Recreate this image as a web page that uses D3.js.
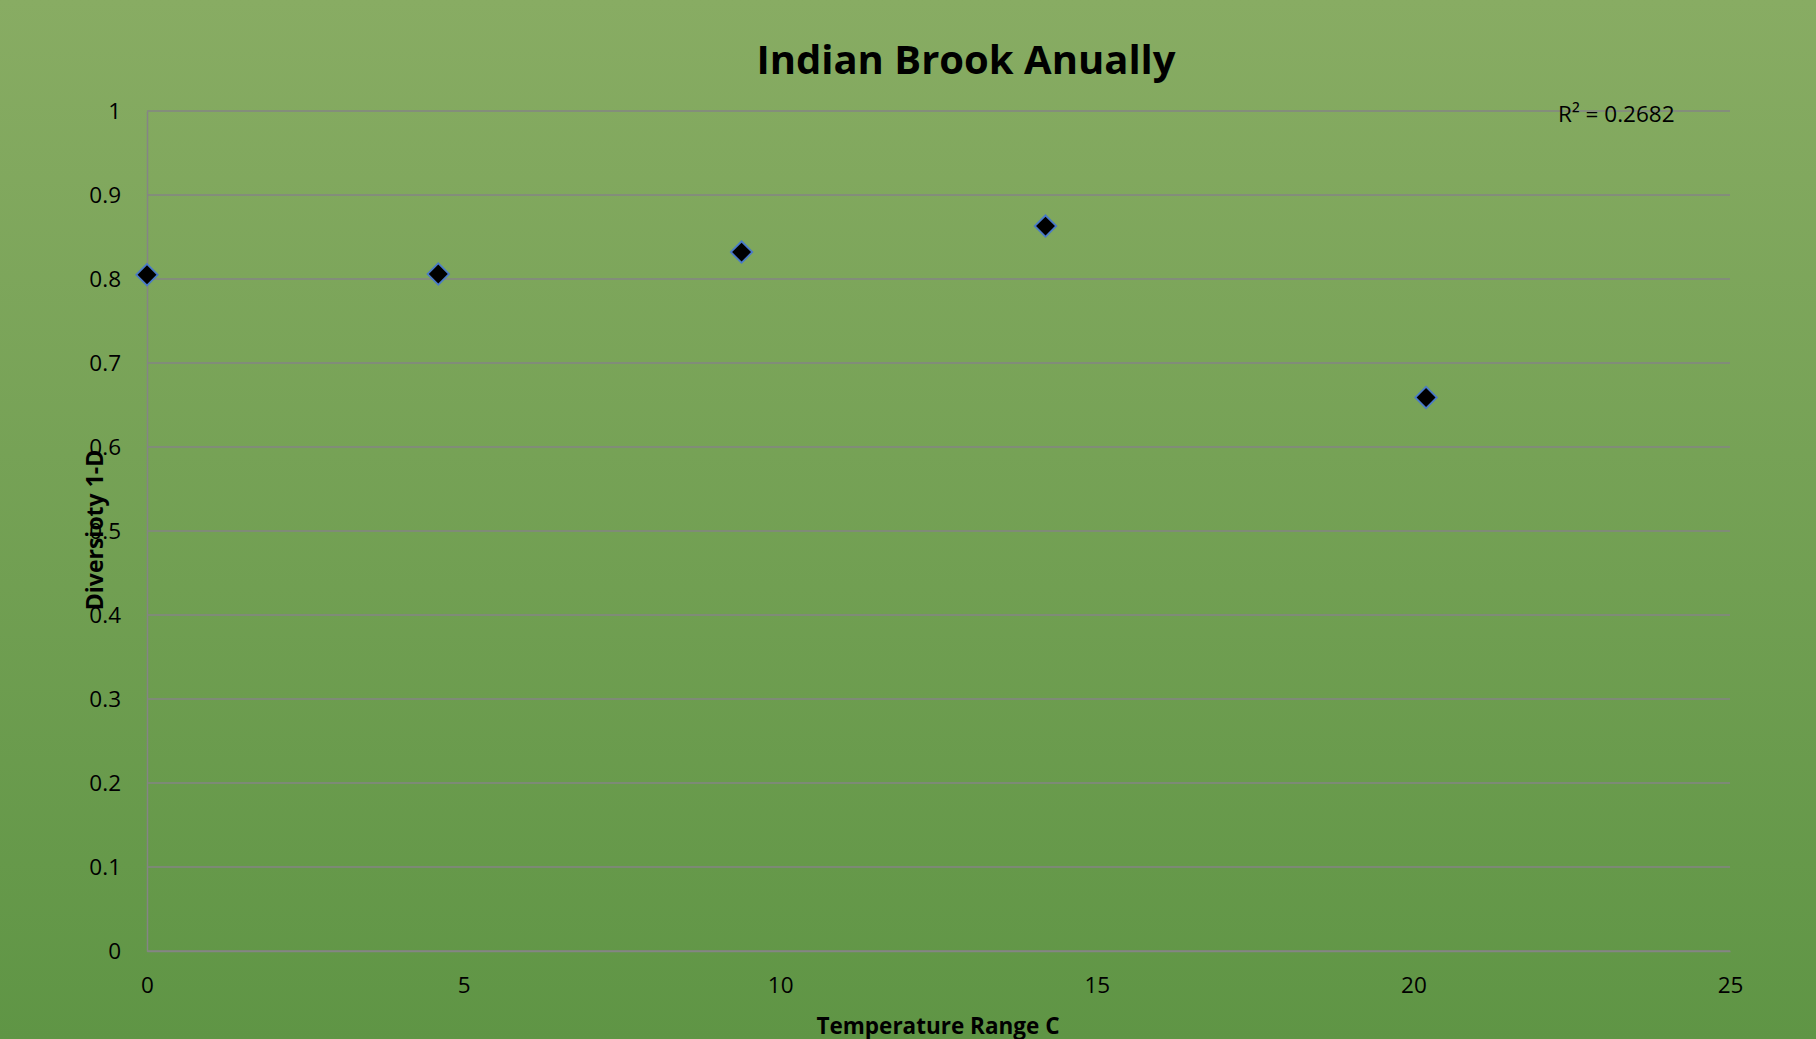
<!DOCTYPE html>
<html>
<head>
<meta charset="utf-8">
<script src="https://cdn.jsdelivr.net/npm/d3@7"></script>
<style>
  html, body { margin: 0; padding: 0; }
  body { width: 1816px; height: 1039px; overflow: hidden; }
  text { font-family: "Open Sans", "Noto Sans", sans-serif; fill: #000; }
</style>
</head>
<body>
<svg id="chart" width="1816" height="1039"></svg>
<script>
// data
let tempRange = [0, 4.6, 9.39, 14.19, 20.2]
let diversity = [0.805, 0.806, 0.832, 0.863, 0.659]
let xTicks = [0, 5, 10, 15, 20, 25]
let yTicks = [0, 0.1, 0.2, 0.3, 0.4, 0.5, 0.6, 0.7, 0.8, 0.9, 1]
let rSquared = "R² = 0.2682"

let svg = d3.select("#chart")

// background gradient
let defs = svg.append("defs")
let grad = defs.append("linearGradient")
    .attr("id", "bg")
    .attr("x1", 0).attr("y1", 0).attr("x2", 0).attr("y2", 1)
grad.append("stop").attr("offset", "0%").attr("stop-color", "#88ac63")
grad.append("stop").attr("offset", "100%").attr("stop-color", "#5f9545")

svg.append("rect")
    .attr("width", 1816).attr("height", 1039)
    .attr("fill", "url(#bg)")

let plotLeft = 147, plotRight = 1730, plotTop = 111, plotBottom = 951

let xScale = d3.scaleLinear().domain([0, 25]).range([plotLeft, plotRight])
let yScale = d3.scaleLinear().domain([0, 1]).range([plotBottom, plotTop])

// gridlines
svg.append("g")
    .selectAll("line")
    .data(yTicks)
    .join("line")
    .attr("x1", plotLeft).attr("x2", plotRight)
    .attr("y1", d => yScale(d)).attr("y2", d => yScale(d))
    .attr("stroke", "#858585")
    .attr("stroke-width", 1.5)

// y axis
let yAxis = d3.axisLeft(yScale)
    .tickValues(yTicks)
    .tickSize(0)
    .tickPadding(26)
    .tickFormat(d3.format("~g"))
let yAxisGroup = svg.append("g")
    .attr("transform", `translate(${plotLeft},0)`)
    .call(yAxis)
yAxisGroup.select(".domain").attr("stroke", "#858585").attr("stroke-width", 1.5)
yAxisGroup.selectAll("text")
    .style("font-size", "22.5px")
    .style("font-family", "'Open Sans', sans-serif")
    .attr("fill", "#000")

// x axis
let xAxis = d3.axisBottom(xScale)
    .tickValues(xTicks)
    .tickSize(0)
    .tickPadding(26)
let xAxisGroup = svg.append("g")
    .attr("transform", `translate(0,${plotBottom})`)
    .call(xAxis)
xAxisGroup.select(".domain").attr("stroke", "#858585").attr("stroke-width", 1.5)
xAxisGroup.selectAll("text")
    .style("font-size", "22.5px")
    .style("font-family", "'Open Sans', sans-serif")
    .attr("fill", "#000")

// points
let points = tempRange.map((t, i) => ({ x: t, y: diversity[i] }))
svg.append("g")
    .selectAll("path")
    .data(points)
    .join("path")
    .attr("d", d3.symbol().type(d3.symbolSquare).size(230))
    .attr("transform", d => `translate(${xScale(d.x)},${yScale(d.y)}) rotate(45)`)
    .attr("fill", "#000")
    .attr("stroke", "#4a7bc8")
    .attr("stroke-width", 1.8)

// title
svg.append("text")
    .attr("x", 966).attr("y", 74)
    .attr("text-anchor", "middle")
    .style("font-size", "40px")
    .style("font-weight", "bold")
    .text("Indian Brook Anually")

// axis titles
svg.append("text")
    .attr("x", 938).attr("y", 1034)
    .attr("text-anchor", "middle")
    .style("font-size", "22.5px")
    .style("font-weight", "bold")
    .text("Temperature Range C")

svg.append("text")
    .attr("transform", "translate(103,530) rotate(-90)")
    .attr("text-anchor", "middle")
    .style("font-size", "23px")
    .style("font-weight", "bold")
    .text("Diversioty 1-D")

// R squared label
svg.append("text")
    .attr("x", 1558).attr("y", 122)
    .style("font-size", "22.5px")
    .text(rSquared)
</script>
</body>
</html>
